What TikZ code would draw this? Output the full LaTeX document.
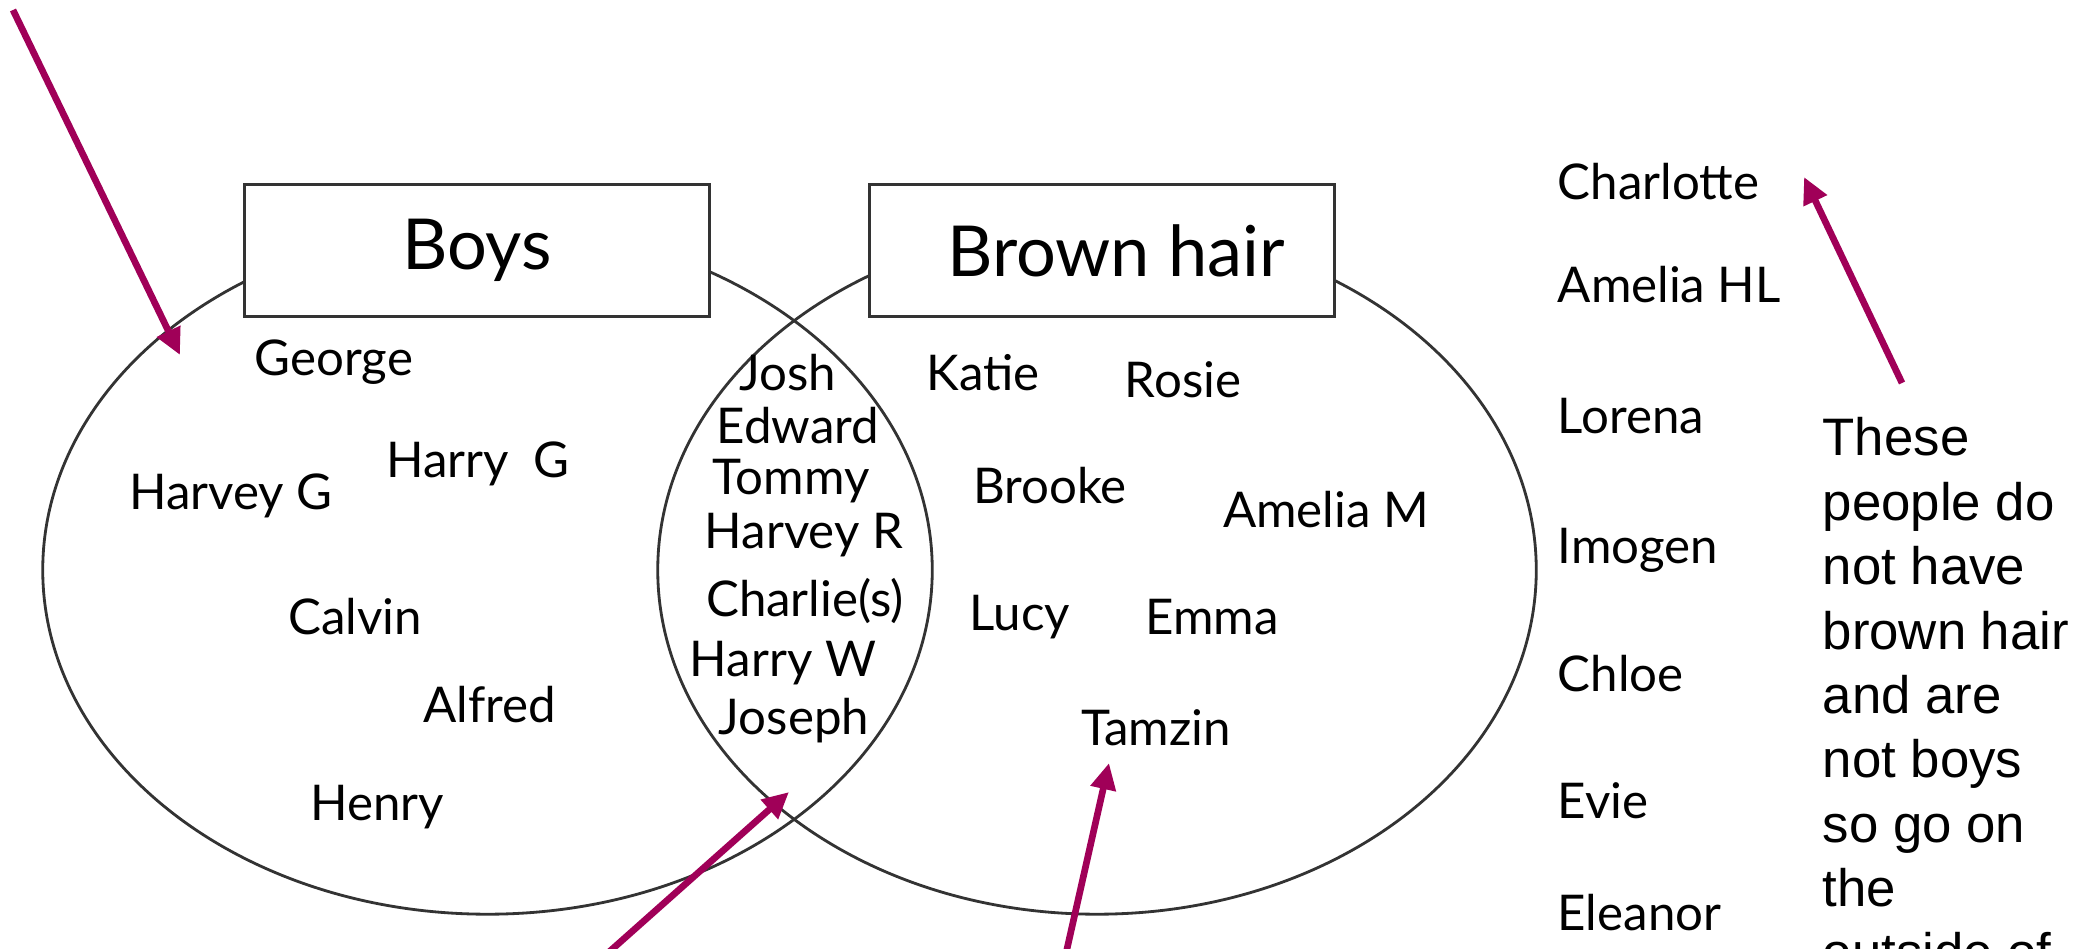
\documentclass[tikz,border=0pt]{standalone}
\usepackage{fontspec}
\setmainfont{Lato}
\newfontfamily\notefont{Liberation Sans}
\usetikzlibrary{shapes.geometric,arrows.meta}
\definecolor{arrowpink}{RGB}{160,0,88}

\begin{document}
\begin{tikzpicture}
  [
    x=0.01cm, y=-0.01cm,
    font=\fontsize{14}{16}\selectfont,
    set ellipse/.style={ellipse,draw=black!80,line width=0.8pt,inner sep=0,minimum height=6.88cm},
    title box/.style={rectangle,draw=black!80,line width=0.85pt,fill=white,minimum width=4.64cm,minimum height=1.31cm,font=\fontsize{20}{24}\selectfont},
    person/.style={anchor=base,inner sep=0},
    outsider/.style={anchor=base west,inner sep=0},
    pointer/.style={draw=arrowpink,line width=1.9pt,-{Triangle[length=7.5pt,width=7pt]}},
    note text/.style={anchor=north west,align=left,inner sep=0,font=\notefont\fontsize{15}{18.3}\selectfont},
  ]
  \useasboundingbox (0,0) rectangle (2098,949);

  \node(boys set)[set ellipse,minimum width=8.89cm] at (487.5,570){};
  \node(hair set)[set ellipse,minimum width=8.78cm] at (1097,570){};
  \node(boys box)[title box] at (477,250.5){Boys};
  \node(hair box)[title box] at (1102,250.5){\hspace*{8pt}Brown hair};

  \node(george)[person] at (334,375){George};
  \node(harvey g)[person] at (231,509){Harvey G};
  \node(harry g)[person] at (478,477){Harry~~G};
  \node(calvin)[person] at (355,634){Calvin};
  \node(alfred)[person] at (490,722){Alfred};
  \node(henry)[person] at (377,820){Henry};

  \node(josh)[person] at (788,390){Josh};
  \node(edward)[person] at (798,443){Edward};
  \node(tommy)[person] at (791,494){Tommy};
  \node(harvey r)[person] at (804,548){Harvey R};
  \node(charlie)[person] at (805,616){Charlie(s)};
  \node(harry w)[person] at (783,676){Harry W};
  \node(joseph)[person] at (794,734){Joseph};

  \node(katie)[person] at (983,390){Katie};
  \node(rosie)[person] at (1183,397){Rosie};
  \node(brooke)[person] at (1050,503){Brooke};
  \node(amelia m)[person] at (1326,527){Amelia M};
  \node(lucy)[person] at (1020,630){Lucy};
  \node(emma)[person] at (1212,634){Emma};
  \node(tamzin)[person] at (1156,745){Tamzin};

  \node(charlotte)[outsider] at (1557,200){Charlotte};
  \node(amelia hl)[outsider] at (1557,303){Amelia HL};
  \node(lorena)[outsider] at (1557,433){Lorena};
  \node(imogen)[outsider] at (1557,563){Imogen};
  \node(chloe)[outsider] at (1557,691){Chloe};
  \node(evie)[outsider] at (1557,818){Evie};
  \node(eleanor)[outsider] at (1557,930){Eleanor};

  \node(note)[note text] at (1822,417){These\\people do\\not have\\brown hair\\and are\\not boys\\so go on\\the\\outside of};

  \coordinate(boys tail) at (13,10);
  \coordinate(boys tip) at (180,355);
  \coordinate(both tail) at (600,960);
  \coordinate(both tip) at (789,792);
  \coordinate(hair tail) at (1064.5,960);
  \coordinate(hair tip) at (1109,763);
  \coordinate(note tail) at (1902,383);
  \coordinate(note tip) at (1804,177);

  \draw[pointer] (boys tail) -- (boys tip);
  \draw[pointer] (both tail) -- (both tip);
  \draw[pointer] (hair tail) -- (hair tip);
  \draw[pointer] (note tail) -- (note tip);

\end{tikzpicture}
\end{document}
